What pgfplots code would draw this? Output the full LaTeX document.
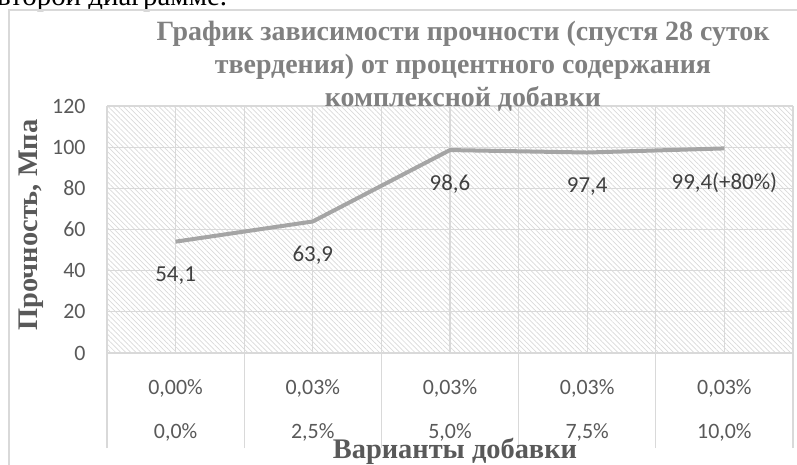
\documentclass[border=0pt]{standalone}
\usepackage{pgfplots}
\pgfplotsset{compat=1.18}
\usepackage{pgfplotstable}
\usepackage{fontspec}
\setmainfont{Liberation Serif}
\newfontfamily\calibri{Carlito}
\usetikzlibrary{patterns.meta}
\definecolor{gridc}{HTML}{D9D9D9}
\definecolor{linec}{HTML}{A5A5A5}
\definecolor{tickc}{HTML}{595959}
\definecolor{labc}{HTML}{404040}
\definecolor{titc}{HTML}{808080}

\pgfplotstableread{
x y lab
0 54.1 {54,1}
1 63.9 {63,9}
2 98.6 {98,6}
3 97.4 {97,4}
4 99.4 {99,4(+80\%)}
}\datatable

\begin{document}
\begin{tikzpicture}
\useasboundingbox (0,-465bp) rectangle (797bp,0);
\clip (0,-465bp) rectangle (797bp,0);
\node[anchor=base west,inner sep=0pt,font=\fontsize{29}{33}\selectfont] at (-3bp,-5bp) {второй диаграмме.};
\draw[gridc,line width=1.5bp] (9bp,-480bp) -- (9bp,-10bp) -- (810bp,-10bp);
\begin{axis}[
  at={(107bp,-353bp)}, anchor=south west,
  scale only axis, width=686bp, height=247bp,
  xmin=-0.5, xmax=4.5, ymin=0, ymax=120,
  xtick={0,...,4},
  xticklabels={{0,00\%\\[18bp]0,0\%},{0,03\%\\[18bp]2,5\%},{0,03\%\\[18bp]5,0\%},{0,03\%\\[18bp]7,5\%},{0,03\%\\[18bp]10,0\%}},
  minor xtick={-0.5,0.5,...,4.5},
  ytick={0,20,...,120},
  grid=both,
  major grid style={gridc,line width=1.2bp},
  minor grid style={gridc,line width=1.2bp},
  axis line style={draw=none},
  xtick pos=left, ytick pos=left,
  tick align=outside,
  major tick length=0pt,
  minor tick length=95bp,
  minor tick style={gridc,line width=1.2bp},
  /pgf/number format/assume math mode=true,
  yticklabel style={font=\calibri\fontsize{22}{26}\selectfont, text=tickc, anchor=east, xshift=-18bp},
  xticklabel style={font=\calibri\fontsize{22}{26}\selectfont, text=tickc, align=center, yshift=-23bp},
  axis background/.style={pattern={Lines[angle=-45,distance=3.6pt,line width=0.7pt]}, pattern color=gridc},
  clip=false,
]
\addplot[linec, line width=4bp, nodes near coords, point meta=explicit symbolic,
  every node near coord/.append style={font=\calibri\fontsize{23}{27}\selectfont, text=labc, anchor=center, yshift=-34bp}]
  table[x=x,y=y,meta=lab] {\datatable};
\end{axis}
\node[font=\bfseries\fontsize{28}{33}\selectfont, text=titc, align=center] at (463bp,-66bp)
  {График зависимости прочности (спустя 28 суток\\твердения) от процентного содержания\\комплексной добавки};
\node[font=\bfseries\fontsize{28.5}{32}\selectfont, text=tickc, rotate=90] at (31bp,-225bp) {Прочность, Мпа};
\node[font=\bfseries\fontsize{28.5}{32}\selectfont, text=tickc, anchor=base] at (455bp,-458bp) {Варианты добавки};
\end{tikzpicture}
\end{document}
